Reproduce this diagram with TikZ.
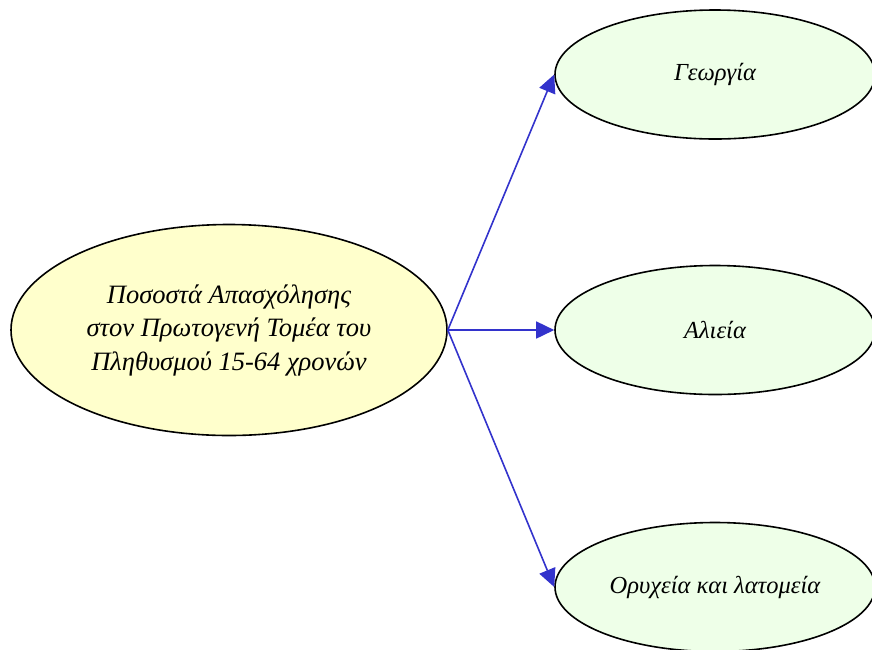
\documentclass[tikz,border=0pt]{standalone}
\usepackage{fontspec}
\setmainfont{Liberation Serif}
\usetikzlibrary{shapes.geometric,arrows.meta}
\definecolor{mainfill}{HTML}{FFFFCC}
\definecolor{leaffill}{HTML}{EEFFE8}
\definecolor{edgeblue}{HTML}{3333CC}
\begin{document}
\begin{tikzpicture}[x=1pt,y=-1pt,
  blob/.style={ellipse,draw=black,line width=1.6pt,inner sep=0pt,align=center},
  rootblob/.style={blob,fill=mainfill,minimum width=436pt,minimum height=211pt,font=\itshape\fontsize{26.5}{33.5}\selectfont},
  leafblob/.style={blob,fill=leaffill,minimum width=320pt,minimum height=129pt,font=\itshape\fontsize{24.5}{30}\selectfont},
  link/.style={draw=edgeblue,line width=1.6pt,-{Triangle[length=18pt,width=17pt]}}]
\useasboundingbox (0,0) rectangle (872,649);
\node[rootblob] (root) at (229,330) {Ποσοστά Απασχόλησης\\στον Πρωτογενή Τομέα του\\Πληθυσμού 15-64 χρονών};
\node[leafblob] (a) at (715,74.5) {Γεωργία};
\node[leafblob] (b) at (715,330) {Αλιεία};
\node[leafblob] (c) at (715,587) {Ορυχεία και λατομεία};
\coordinate (s) at (root.east);
\draw[link] (s) -- (a.west);
\draw[link] (s) -- (b.west);
\draw[link] (s) -- (c.west);
\end{tikzpicture}
\end{document}
